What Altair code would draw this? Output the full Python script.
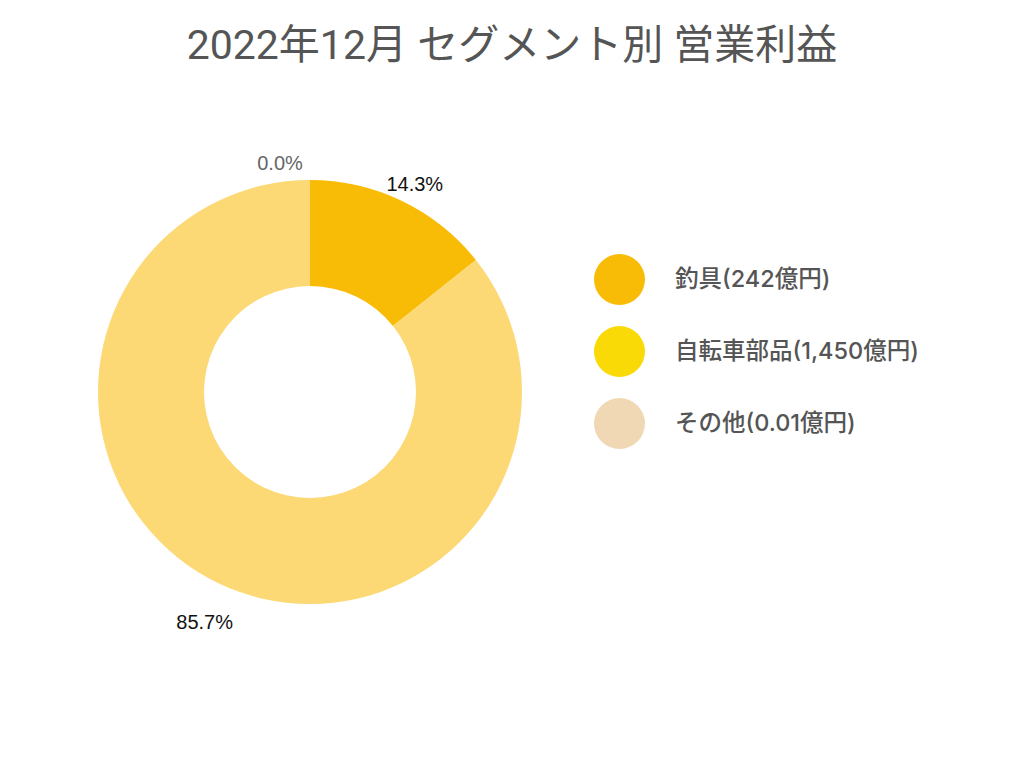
import altair as alt
import pandas as pd

segments = ["釣具", "自転車部品", "その他"]
values = [242, 1450, 0.01]
order_idx = [0, 1, 2]
pct_labels = ["14.3%", "85.7%", "0.0%"]
legend_labels = ["釣具(242億円)", "自転車部品(1,450億円)", "その他(0.01億円)"]
arc_colors = ["#F9BC06", "#FCD975", "#F0D8B4"]
legend_colors = ["#F9BC06", "#F9DA07", "#F0D8B4"]
title_text = "2022年12月 セグメント別 営業利益"

df = pd.DataFrame({
    "segment": segments,
    "value": values,
    "order": order_idx,
    "pct": pct_labels,
    "legend_label": legend_labels,
})

CX, CY = 310, 392

arcs = alt.Chart(df).mark_arc(outerRadius=212, innerRadius=106, strokeWidth=0).encode(
    theta=alt.Theta("value:Q", stack=True),
    order=alt.Order("order:Q"),
    fill=alt.Fill("segment:N", scale=alt.Scale(domain=segments, range=arc_colors), legend=None),
    x=alt.value(CX),
    y=alt.value(CY),
)

legend_layer = alt.Chart(df).mark_circle(opacity=0).encode(
    color=alt.Color(
        "legend_label:N",
        scale=alt.Scale(domain=legend_labels, range=legend_colors),
        legend=alt.Legend(
            title=None,
            orient="none",
            legendX=594,
            legendY=254,
            symbolType="circle",
            symbolSize=2600,
            symbolOpacity=1,
            symbolStrokeWidth=0,
            labelFont="Inter, Noto Sans CJK JP",
            labelFontSize=23.5,
            labelFontWeight=500,
            labelColor="#555555",
            labelOffset=30,
            rowPadding=21,
            padding=0,
            labelLimit=400,
        ),
    ),
    x=alt.value(0),
    y=alt.value(0),
)

total = float(sum(values))
base_txt = alt.Chart(df).transform_window(
    cum="sum(value)", sort=[alt.SortField("order")]
).transform_calculate(
    frac=f"(datum.cum - datum.value / 2) / {total}"
)

def label_layer(seg, radius, dx, dy, color):
    return base_txt.transform_filter(alt.datum.segment == seg).mark_text(
        radius=radius, dx=dx, dy=dy, fontSize=20, font="Liberation Sans",
        color=color, align="center", baseline="middle",
    ).encode(
        theta=alt.Theta("frac:Q", stack=None, scale=alt.Scale(domain=[0, 1], range=[0, 6.283185307179586])),
        text="pct:N",
        x=alt.value(CX),
        y=alt.value(CY),
    )

lab1 = label_layer("釣具", 232, 4, 2, "#111111")
lab2 = label_layer("自転車部品", 254, 5, 2, "#111111")
lab3 = label_layer("その他", 230, -30, 2, "#666666")

title = alt.Chart(alt.Data(values=[{"t": title_text}])).mark_text(
    fontSize=41, font="Roboto, Noto Sans CJK JP", color="#555555",
    align="center", baseline="middle",
).encode(text="t:N", x=alt.value(512), y=alt.value(47))

chart = alt.layer(arcs, legend_layer, lab1, lab2, lab3, title).resolve_scale(
    theta="independent"
).properties(
    width=1024, height=768, padding=0,
    autosize=alt.AutoSizeParams(type="none"),
).configure_view(stroke=None)

chart.save("out.html", embed_options={"renderer": "svg", "actions": False})
